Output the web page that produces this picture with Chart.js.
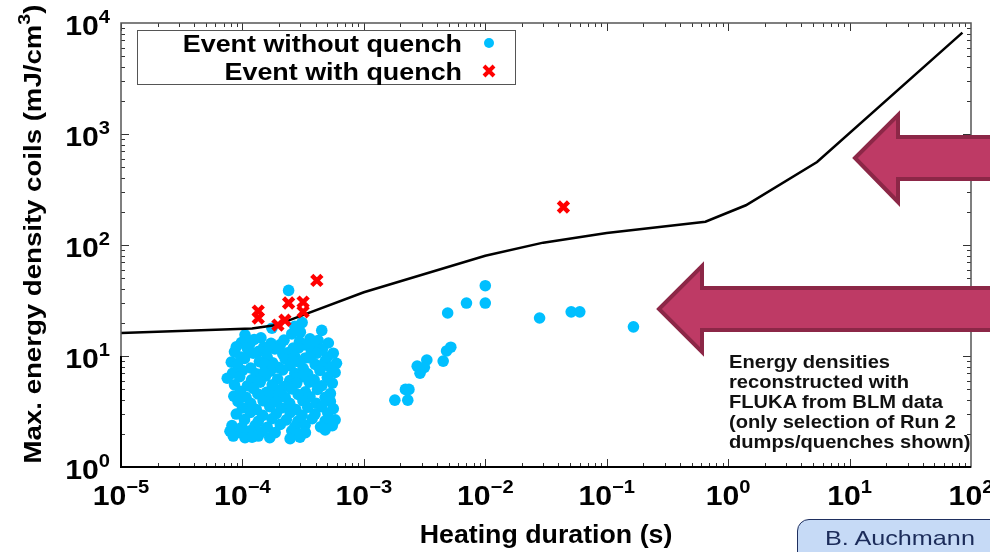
<!DOCTYPE html>
<html>
<head>
<meta charset="utf-8">
<script src="https://cdn.jsdelivr.net/npm/chart.js@4.4.1/dist/chart.umd.min.js"></script>
<style>
  body { margin: 0; background: #fff; }
  #wrap { position: relative; width: 990px; height: 552px; overflow: hidden; }
  #chart { position: absolute; left: 0; top: 0; }
  #arrows { position: absolute; left: 0; top: 0; }
  #note {
    position: absolute; left: 729px; top: 352px;
    font: bold 17.5px "Liberation Sans", Arial, sans-serif; line-height: 20px;
    color: #111; transform: scaleX(1.15); transform-origin: left top; white-space: nowrap;
  }
  #author {
    position: absolute; left: 797px; top: 519px; width: 220px; height: 50px;
    background: #c6daf6; border: 1.5px solid #1f2f5f; border-radius: 12px;
    box-sizing: border-box;
  }
  #author span {
    position: absolute; left: 27px; top: 6px;
    font: 21px "Liberation Sans", Arial, sans-serif; color: #1c2c5a;
    transform: scaleX(1.2); transform-origin: left top; white-space: nowrap;
  }
</style>
</head>
<body>
<div id="wrap">
  <canvas id="chart" width="990" height="552"></canvas>
  <svg id="arrows" width="990" height="552">
    <polygon points="855,158 898,115 898,137 996,137 996,179 898,179 898,202"
      fill="#be3a65" stroke="#8c2747" stroke-width="4" stroke-linejoin="miter"/>
    <polygon points="659,309 702,266 702,288 996,288 996,330 702,330 702,352"
      fill="#be3a65" stroke="#8c2747" stroke-width="4" stroke-linejoin="miter"/>
  </svg>
  <div id="note">Energy densities<br>reconstructed with<br>FLUKA from BLM data<br>(only selection of Run 2<br>dumps/quenches shown)</div>
  <div id="author"><span>B. Auchmann</span></div>
</div>
<script>
// quench limit line (heating duration s, energy mJ/cm3)
const limitDuration = [1e-5, 1.2e-4, 1.9e-4, 1e-3, 1e-2, 3e-2, 0.1, 0.65, 1.4, 5.4, 85];
const limitEnergy   = [16.1, 17.7, 19.0, 37.5, 80, 105, 128, 162, 228, 560, 8200];

// events without quench, dense group around 1e-4 s
const clusterPoints = [
  [2.4e-4, 39], [2.7e-4, 18.5], [1.75e-4, 17.8], [4.5e-4, 17.0], [3.1e-4, 20],
  [1.05e-4, 15.5], [1.42e-4, 14.6], [2.55e-4, 15.8], [3.6e-4, 14.3], [3.0e-4, 16.4],
  [9.8e-5, 13.2], [1.25e-4, 14.1], [1.72e-4, 13.0], [2.2e-4, 13.9], [2.95e-4, 13.5], [4.2e-4, 13.8],
  [8.9e-5, 12.1], [1.15e-4, 12.9], [1.5e-4, 12.0], [2.05e-4, 12.7], [2.62e-4, 11.8], [3.3e-4, 12.6], [5.1e-4, 13.1], [3.9e-4, 12.2],
  [8.6e-5, 10.9], [1.1e-4, 11.7], [1.36e-4, 11.0], [1.85e-4, 11.6], [2.35e-4, 10.7], [2.9e-4, 11.8], [3.7e-4, 10.9], [4.55e-4, 11.5], [5.6e-4, 10.6], [1.6e-4, 11.3],
  [9.7e-5, 9.8], [1.23e-4, 10.6], [1.6e-4, 9.7], [2.15e-4, 10.4], [2.7e-4, 9.9], [3.3e-4, 9.6], [4.1e-4, 10.6], [5.0e-4, 9.8],
  [8.1e-5, 8.8], [1.04e-4, 9.5], [1.38e-4, 8.9], [1.77e-4, 8.7], [2.25e-4, 9.4], [2.95e-4, 8.8], [3.62e-4, 9.6], [4.8e-4, 9.0], [5.95e-4, 8.6], [2.6e-4, 9.1],
  [9.1e-5, 8.3], [1.17e-4, 7.8], [1.52e-4, 8.4], [1.97e-4, 7.9], [2.48e-4, 8.2], [3.17e-4, 7.7], [3.98e-4, 8.4], [5.3e-4, 7.9], [4.5e-4, 8.1],
  [8.3e-5, 7.0], [1.0e-4, 7.4], [1.3e-4, 6.9], [1.7e-4, 7.3], [2.15e-4, 7.5], [2.7e-4, 7.0], [3.45e-4, 6.9], [4.35e-4, 7.4], [5.8e-4, 7.1], [1.5e-4, 7.1],
  [7.5e-5, 6.3], [9.5e-5, 6.5], [1.19e-4, 6.1], [1.55e-4, 6.6], [1.95e-4, 6.2], [2.45e-4, 6.0], [3.1e-4, 6.5], [3.9e-4, 6.1], [5.0e-4, 6.4], [2.8e-4, 6.3],
  [8.6e-5, 5.5], [1.1e-4, 5.4], [1.4e-4, 5.8], [1.76e-4, 5.5], [2.22e-4, 5.3], [2.8e-4, 5.7], [3.55e-4, 5.8], [4.5e-4, 5.4], [5.5e-4, 5.7],
  [9.6e-5, 4.8], [1.23e-4, 5.1], [1.58e-4, 4.7], [2.03e-4, 4.95], [2.55e-4, 5.05], [3.3e-4, 4.75], [4.15e-4, 5.0], [5.3e-4, 4.6], [1.8e-4, 5.2],
  [8.5e-5, 4.35], [1.07e-4, 4.25], [1.34e-4, 4.55], [1.75e-4, 4.35], [2.25e-4, 4.25], [2.88e-4, 4.5], [3.6e-4, 4.3], [4.8e-4, 4.25], [2.0e-4, 4.6],
  [9.2e-5, 3.9], [1.17e-4, 3.75], [1.48e-4, 3.95], [1.9e-4, 3.85], [2.45e-4, 3.75], [3.15e-4, 3.95], [4.05e-4, 3.75], [5.3e-4, 3.9],
  [1.0e-4, 3.4], [1.3e-4, 3.3], [1.68e-4, 3.5], [2.1e-4, 3.4], [2.75e-4, 3.3], [3.45e-4, 3.45], [4.5e-4, 3.5], [5.6e-4, 3.35],
  [8.9e-5, 3.0], [1.16e-4, 3.1], [1.47e-4, 2.92], [1.9e-4, 3.02], [2.47e-4, 3.08], [3.1e-4, 2.93], [3.96e-4, 3.0], [5.05e-4, 3.07],
  [1.04e-4, 2.67], [1.35e-4, 2.58], [1.75e-4, 2.72], [2.3e-4, 2.66], [2.86e-4, 2.58], [3.75e-4, 2.72], [4.8e-4, 2.6], [5.8e-4, 2.66],
  [8.2e-5, 2.36], [9.9e-5, 2.28], [1.27e-4, 2.36], [1.6e-4, 2.28], [2.05e-4, 2.42], [2.7e-4, 2.3], [3.28e-4, 2.38], [4.4e-4, 2.3], [5.5e-4, 2.36],
  [7.9e-5, 2.1], [9.6e-5, 2.04], [1.16e-4, 2.12], [1.44e-4, 2.08], [1.86e-4, 2.04], [2.55e-4, 2.12], [3.3e-4, 2.04], [4.8e-4, 2.16], [2.9e-4, 2.0],
  [8.4e-5, 1.9], [1.05e-4, 1.84], [1.35e-4, 1.9], [1.68e-4, 1.84], [2.47e-4, 1.8], [2.98e-4, 1.86], [1.2e-4, 1.86]
];

// events without quench at longer durations
const spreadPoints = [
  [1.8e-3, 4.0], [2.3e-3, 4.0], [2.2e-3, 5.0], [2.35e-3, 5.0], [2.75e-3, 8.1], [2.9e-3, 7.0],
  [3.3e-3, 9.2], [3.15e-3, 7.9], [4.5e-3, 9.0], [4.8e-3, 11.1], [5.2e-3, 12], [4.9e-3, 24.4],
  [7e-3, 30], [1e-2, 43], [1e-2, 30], [0.028, 22], [0.051, 25], [0.06, 25], [0.166, 18.3]
];

// events with quench
const quenchPoints = [
  [1.35e-4, 25.4], [1.35e-4, 22], [1.96e-4, 19], [2.24e-4, 21], [2.4e-4, 30],
  [3.16e-4, 30.6], [3.16e-4, 25], [4.1e-4, 48], [0.044, 220]
];

const xTickExps = [-5, -4, -3, -2, -1, 0, 1, 2];
const yTickExps = [0, 1, 2, 3, 4];

const legendLabels = ["Event without quench", "Event with quench"];
const xTitle = "Heating duration (s)";
const yTitle = "Max. energy density coils (mJ/cm";

const FONT = '"Liberation Sans", Arial, sans-serif';
const STRETCH = 1.12;

function stretchedText(ctx, s, x, y, font, align, sx) {
    ctx.save();
    ctx.font = font;
    const w = ctx.measureText(s).width * sx;
    let x0 = x;
    if (align === "right") x0 = x - w;
    if (align === "center") x0 = x - w / 2;
    ctx.translate(x0, y);
    ctx.scale(sx, 1);
    ctx.textAlign = "left";
    ctx.fillText(s, 0, 0);
    ctx.restore();
    return w;
}

function powerLabel(ctx, exp, x, y, align) {
    const baseFont = `bold 27px ${FONT}`;
    const expFont = `bold 18px ${FONT}`;
    const expText = exp < 0 ? "\u2212" + Math.abs(exp) : String(exp);
    ctx.font = baseFont;
    const wb = ctx.measureText("10").width * STRETCH;
    ctx.font = expFont;
    const we = ctx.measureText(expText).width * STRETCH;
    let x0 = x;
    if (align === "center") x0 = x - (wb + we) / 2;
    if (align === "right") x0 = x - (wb + we);
    stretchedText(ctx, "10", x0, y, baseFont, "left", STRETCH);
    stretchedText(ctx, expText, x0 + wb, y - 12, expFont, "left", STRETCH);
}

const decorPlugin = {
    id: "decor",
    afterDatasetsDraw(chart) {
        const ctx = chart.ctx;
        const a = chart.chartArea;
        const xs = chart.scales.x, ys = chart.scales.y;
        ctx.save();

        // ticks (inward, mirrored)
        ctx.strokeStyle = "#333";
        ctx.lineWidth = 1;
        ctx.beginPath();
        for (let e = -5; e < 2; e++) {
            for (let m = 1; m < 10; m++) {
                const px = Math.round(xs.getPixelForValue(m * Math.pow(10, e))) + 0.5;
                const len = m === 1 ? 8 : 4;
                ctx.moveTo(px, a.bottom); ctx.lineTo(px, a.bottom - len);
                ctx.moveTo(px, a.top); ctx.lineTo(px, a.top + len);
            }
        }
        for (let e = 0; e < 4; e++) {
            for (let m = 1; m < 10; m++) {
                const py = Math.round(ys.getPixelForValue(m * Math.pow(10, e))) + 0.5;
                const len = m === 1 ? 8 : 4;
                ctx.moveTo(a.left, py); ctx.lineTo(a.left + len, py);
                ctx.moveTo(a.right, py); ctx.lineTo(a.right - len, py);
            }
        }
        ctx.stroke();

        // frame
        ctx.strokeStyle = "#555";
        ctx.lineWidth = 1.5;
        ctx.strokeRect(a.left, a.top, a.right - a.left, a.bottom - a.top);
        ctx.strokeStyle = "#000";
        ctx.lineWidth = 2;
        ctx.beginPath();
        ctx.moveTo(a.left, ys.getPixelForValue(10));
        ctx.lineTo(a.left, a.bottom);
        ctx.lineTo(a.right, a.bottom);
        ctx.stroke();

        // tick labels
        ctx.fillStyle = "#000";
        ctx.textBaseline = "alphabetic";
        xTickExps.forEach(e => {
            powerLabel(ctx, e, xs.getPixelForValue(Math.pow(10, e)), 505, "center");
        });
        yTickExps.forEach(e => {
            powerLabel(ctx, e, 110, ys.getPixelForValue(Math.pow(10, e)) + 12, "right");
        });

        // axis titles
        stretchedText(ctx, xTitle, (a.left + a.right) / 2, 543, `bold 25px ${FONT}`, "center", 1.07);
        ctx.save();
        ctx.translate(41, 234);
        ctx.rotate(-Math.PI / 2);
        const tf = `bold 24px ${FONT}`, sf = `bold 17px ${FONT}`;
        ctx.font = tf;
        const w1 = ctx.measureText(yTitle).width * 1.15;
        const w3 = ctx.measureText(")").width * 1.15;
        ctx.font = sf;
        const w2 = ctx.measureText("3").width * 1.15;
        const start = -(w1 + w2 + w3) / 2;
        stretchedText(ctx, yTitle, start, 0, tf, "left", 1.15);
        stretchedText(ctx, "3", start + w1, -11, sf, "left", 1.15);
        stretchedText(ctx, ")", start + w1 + w2, 0, tf, "left", 1.15);
        ctx.restore();

        // legend
        ctx.fillStyle = "#fff";
        ctx.fillRect(137, 30, 378, 54);
        ctx.strokeStyle = "#555";
        ctx.lineWidth = 1;
        ctx.strokeRect(137.5, 30.5, 378, 54);
        ctx.fillStyle = "#000";
        stretchedText(ctx, legendLabels[0], 462, 52, `bold 24px ${FONT}`, "right", STRETCH);
        stretchedText(ctx, legendLabels[1], 462, 80, `bold 24px ${FONT}`, "right", STRETCH);
        ctx.fillStyle = "#00bfff";
        ctx.beginPath();
        ctx.arc(489, 43, 5, 0, Math.PI * 2);
        ctx.fill();
        ctx.strokeStyle = "#ff0000";
        ctx.lineWidth = 4;
        ctx.beginPath();
        ctx.moveTo(484, 66); ctx.lineTo(494, 76);
        ctx.moveTo(494, 66); ctx.lineTo(484, 76);
        ctx.stroke();

        ctx.restore();
    }
};

new Chart(document.getElementById("chart"), {
    type: "scatter",
    data: {
        datasets: [
            {
                label: legendLabels[1],
                data: quenchPoints.map(p => ({ x: p[0], y: p[1] })),
                pointStyle: "crossRot",
                pointRadius: 7.2,
                borderColor: "#ff0000",
                borderWidth: 4.5,
                order: 0
            },
            {
                type: "line",
                label: "limit",
                data: limitDuration.map((d, i) => ({ x: d, y: limitEnergy[i] })),
                borderColor: "#000",
                borderWidth: 2.5,
                pointRadius: 0,
                tension: 0,
                fill: false,
                order: 1
            },
            {
                label: legendLabels[0],
                data: clusterPoints.concat(spreadPoints).map(p => ({ x: p[0], y: p[1] })),
                pointStyle: "circle",
                pointRadius: 5.8,
                backgroundColor: "#00bfff",
                borderWidth: 0,
                order: 2
            }
        ]
    },
    options: {
        responsive: false,
        devicePixelRatio: 1,
        animation: false,
        layout: { padding: { left: 121, right: 19, top: 23, bottom: 85 } },
        scales: {
            x: { type: "logarithmic", min: 1e-5, max: 1e2, display: false },
            y: { type: "logarithmic", min: 1, max: 1e4, display: false }
        },
        plugins: {
            legend: { display: false },
            tooltip: { enabled: false }
        }
    },
    plugins: [decorPlugin]
});
</script>
</body>
</html>
